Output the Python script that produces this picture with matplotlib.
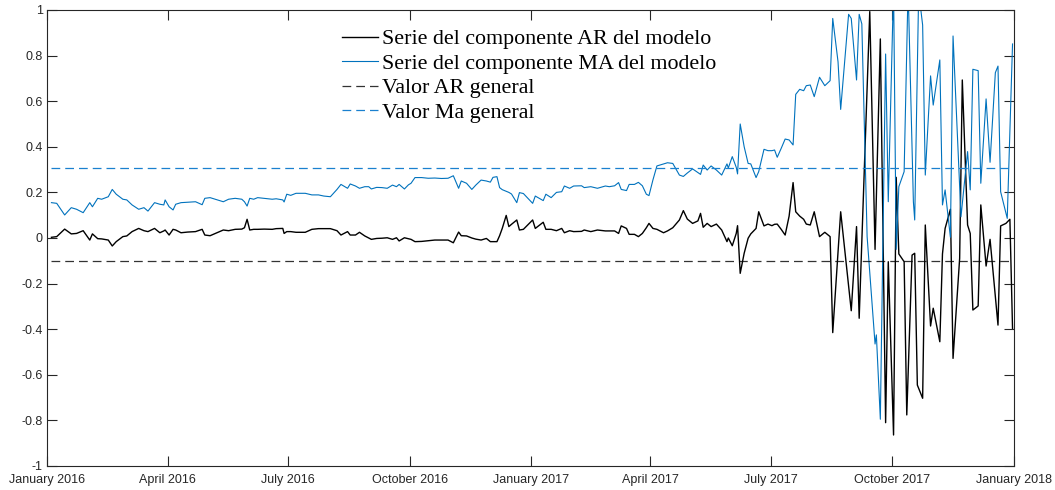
import matplotlib
matplotlib.use('Agg')
import matplotlib.pyplot as plt
import matplotlib.dates as mdates
import pandas as pd

# dias desde el 1 de enero de 2016 (tramo tranquilo, comunes a ambas series)
dias_calma = [3, 7, 13, 18, 22, 27, 32, 34, 38, 41,
              46, 49, 52, 57, 60, 64, 69, 73, 76, 81,
              85, 88, 89, 92, 95, 97, 101, 106, 112, 117,
              119, 123, 127, 133, 137, 142, 147, 149, 151, 153,
              156, 159, 164, 170, 173, 178, 179, 181, 184, 188,
              195, 200, 205, 209, 214, 219, 222, 227, 229, 233,
              236, 240, 243, 245, 249, 253, 257, 261, 264, 266,
              270, 273, 275, 278, 283, 288, 293, 298, 303, 307,
              311, 313, 317, 321, 324, 328, 332, 335, 337, 340,
              342, 344, 347, 349, 351, 355, 357, 360, 367, 369,
              375, 377, 381, 385, 389, 391, 395, 398, 404, 406,
              411, 416, 422, 425, 429, 432, 434, 438, 440, 444,
              447, 450, 453, 455, 458, 461, 466, 469, 473, 478,
              481, 484, 488, 492, 494, 496, 499, 502, 506, 510,
              514, 515, 518, 521, 522, 524, 527, 530, 532, 536,
              538, 542, 545, 548, 550, 552, 555, 558, 561, 564,
              566, 569, 572, 574, 577, 580, 584, 588, 592]

ar_calma = [0.003, 0.006, 0.039, 0.018, 0.020, 0.032, -0.009, 0.018, -0.003, -0.004,
            -0.009, -0.035, -0.016, 0.006, 0.009, 0.028, 0.042, 0.032, 0.028, 0.042,
            0.023, 0.031, 0.035, 0.013, 0.038, 0.035, 0.023, 0.026, 0.028, 0.038,
            0.013, 0.010, 0.020, 0.035, 0.032, 0.038, 0.039, 0.045, 0.082, 0.035,
            0.038, 0.038, 0.039, 0.038, 0.041, 0.042, 0.020, 0.028, 0.028, 0.025,
            0.025, 0.038, 0.041, 0.041, 0.041, 0.032, 0.013, 0.028, 0.013, 0.013,
            0.025, 0.009, 0.000, -0.006, -0.002, -0.001, 0.001, -0.006, 0.001, -0.013,
            0.001, -0.003, -0.006, -0.016, -0.015, -0.012, -0.009, -0.009, -0.009, -0.021,
            0.026, 0.010, 0.009, 0.000, -0.005, -0.009, -0.002, -0.016, -0.016, -0.016,
            0.010, 0.042, 0.099, 0.050, 0.060, 0.079, 0.035, 0.038, 0.079, 0.042,
            0.069, 0.038, 0.038, 0.032, 0.042, 0.023, 0.032, 0.028, 0.029, 0.035,
            0.028, 0.035, 0.031, 0.031, 0.031, 0.020, 0.053, 0.042, 0.016, 0.016,
            0.006, 0.020, 0.045, 0.064, 0.042, 0.038, 0.023, 0.031, 0.045, 0.079,
            0.120, 0.083, 0.064, 0.075, 0.108, 0.047, 0.064, 0.050, 0.061, 0.035,
            -0.016, 0.000, -0.034, 0.020, 0.054, -0.155, -0.067, -0.001, 0.018, 0.042,
            0.115, 0.053, 0.061, 0.054, 0.060, 0.061, 0.038, 0.013, 0.096, 0.243,
            0.115, 0.096, 0.082, 0.061, 0.057, 0.115, 0.006, 0.025, 0.006]

ma_calma = [0.155, 0.152, 0.101, 0.133, 0.126, 0.111, 0.155, 0.137, 0.174, 0.170,
            0.181, 0.213, 0.192, 0.170, 0.167, 0.145, 0.126, 0.133, 0.118, 0.155,
            0.148, 0.145, 0.167, 0.137, 0.123, 0.148, 0.155, 0.157, 0.159, 0.146,
            0.174, 0.177, 0.170, 0.159, 0.170, 0.174, 0.170, 0.159, 0.140, 0.174,
            0.170, 0.177, 0.174, 0.170, 0.172, 0.167, 0.158, 0.192, 0.187, 0.196,
            0.196, 0.189, 0.189, 0.184, 0.181, 0.213, 0.235, 0.218, 0.237, 0.228,
            0.218, 0.225, 0.225, 0.215, 0.222, 0.221, 0.218, 0.232, 0.225, 0.235,
            0.215, 0.233, 0.240, 0.265, 0.265, 0.262, 0.263, 0.261, 0.262, 0.273,
            0.218, 0.250, 0.240, 0.213, 0.232, 0.254, 0.250, 0.245, 0.266, 0.269,
            0.221, 0.212, 0.205, 0.200, 0.193, 0.155, 0.199, 0.195, 0.152, 0.184,
            0.164, 0.192, 0.177, 0.200, 0.203, 0.228, 0.218, 0.228, 0.229, 0.221,
            0.225, 0.218, 0.228, 0.225, 0.229, 0.243, 0.213, 0.208, 0.235, 0.235,
            0.244, 0.229, 0.192, 0.186, 0.255, 0.316, 0.325, 0.330, 0.327, 0.276,
            0.270, 0.285, 0.303, 0.287, 0.279, 0.320, 0.298, 0.316, 0.298, 0.276,
            0.325, 0.307, 0.357, 0.310, 0.281, 0.500, 0.400, 0.327, 0.325, 0.265,
            0.291, 0.389, 0.383, 0.383, 0.386, 0.354, 0.393, 0.434, 0.430, 0.408,
            0.630, 0.652, 0.646, 0.668, 0.671, 0.620, 0.705, 0.668, 0.690]

# tramo volatil (septiembre 2017 en adelante)
dias_ar_vol = [594, 600, 608, 612, 614, 622, 626, 630, 634, 636,
               640, 642, 644, 648, 650, 654, 656, 658, 662, 664,
               668, 670, 675, 677, 679, 683, 685, 690, 692, 696,
               698, 700, 704, 706, 710, 713, 719, 721, 725, 728, 730]
ar_vol = [-0.415, 0.115, -0.319, 0.050, -0.352, 0.993, -0.050, 0.873, -0.810, -0.104,
          -0.864, 0.266, -0.070, -0.104, -0.776, -0.075, -0.067, -0.645, -0.703, 0.057,
          -0.386, -0.308, -0.455, -0.070, 0.042, 0.126, -0.528, -0.089, 0.693, 0.057,
          0.020, -0.316, -0.298, 0.145, -0.123, -0.006, -0.382, 0.053, 0.064, 0.082, -0.396]

dias_ma_vol = [594, 598, 600, 606, 608, 612, 614, 616, 620, 626,
               627, 630, 634, 636, 640, 642, 644, 648, 651, 655,
               656, 659, 662, 664, 668, 670, 675, 677, 679, 683,
               685, 691, 696, 698, 700, 704, 706, 710, 713, 717,
               719, 721, 726, 730]
ma_vol = [0.963, 0.773, 0.564, 0.981, 0.963, 0.693, 0.981, 0.939, 0.006, -0.465,
          -0.425, -0.795, 0.807, 0.159, 1.10, -0.050, 0.225, 0.291, 1.10, 0.159,
          0.079, 1.08, 0.934, 0.276, 0.711, 0.583, 0.781, 0.145, 0.211, 0.003,
          0.886, 0.093, 0.379, 0.211, 0.740, 0.734, 0.240, 0.610, 0.332, 0.725,
          0.754, 0.203, 0.086, 0.851]

valor_ar_general = -0.1
valor_ma_general = 0.305

etiquetas = ['Serie del componente AR del modelo', 'Serie del componente MA del modelo',
             'Valor AR general', 'Valor Ma general']

inicio = pd.Timestamp('2016-01-01')
fechas_ar = inicio + pd.to_timedelta(dias_calma + dias_ar_vol, unit='D')
fechas_ma = inicio + pd.to_timedelta(dias_calma + dias_ma_vol, unit='D')
serie_ar = ar_calma + ar_vol
serie_ma = ma_calma + ma_vol

gris = '#262626'
fig = plt.figure(figsize=(10.55, 4.9), dpi=100)
ax = fig.add_axes([0.045, 0.049, 0.916, 0.9306])

ax.plot(fechas_ar, serie_ar, color='k', linewidth=1.0, label=etiquetas[0])
ax.plot(fechas_ma, serie_ma, color='#0072BD', linewidth=0.8, label=etiquetas[1])
extremos = [fechas_ar[0], fechas_ar[-1]]
ax.plot(extremos, [valor_ar_general] * 2, color='k', linewidth=0.9,
        linestyle=(0, (7, 4)), alpha=0.8, label=etiquetas[2])
ax.plot(extremos, [valor_ma_general] * 2, color='#1A80CF', linewidth=0.9,
        linestyle=(0, (7, 4)), label=etiquetas[3])

ax.set_xlim(pd.Timestamp('2016-01-01'), pd.Timestamp('2018-01-01'))
ax.set_ylim(-1, 1)
ax.set_yticks([-1, -0.8, -0.6, -0.4, -0.2, 0, 0.2, 0.4, 0.6, 0.8, 1])
ax.set_yticklabels(['-1', '-0.8', '-0.6', '-0.4', '-0.2', '0', '0.2', '0.4', '0.6', '0.8', '1'])
ax.xaxis.set_major_locator(mdates.MonthLocator(bymonth=[1, 4, 7, 10]))
ax.xaxis.set_major_formatter(mdates.DateFormatter('%B %Y'))

for s in ax.spines.values():
    s.set_color(gris)
    s.set_linewidth(0.8)
ax.tick_params(direction='in', length=7, width=0.8, color=gris, labelcolor=gris,
               top=True, right=True, labelsize=9, pad=3.5)
ax.tick_params(axis='x', pad=6)
for t in ax.get_xticklabels() + ax.get_yticklabels():
    t.set_fontfamily('Liberation Sans')

ax.legend(loc='upper left', bbox_to_anchor=(0.324, 0.941), bbox_transform=fig.transFigure,
          frameon=False, borderpad=0, borderaxespad=0, handlelength=1.67,
          handletextpad=0.17, labelspacing=0.19,
          prop={'family': 'Liberation Serif', 'size': 15.8})

fig.savefig('out.png', dpi=100)
